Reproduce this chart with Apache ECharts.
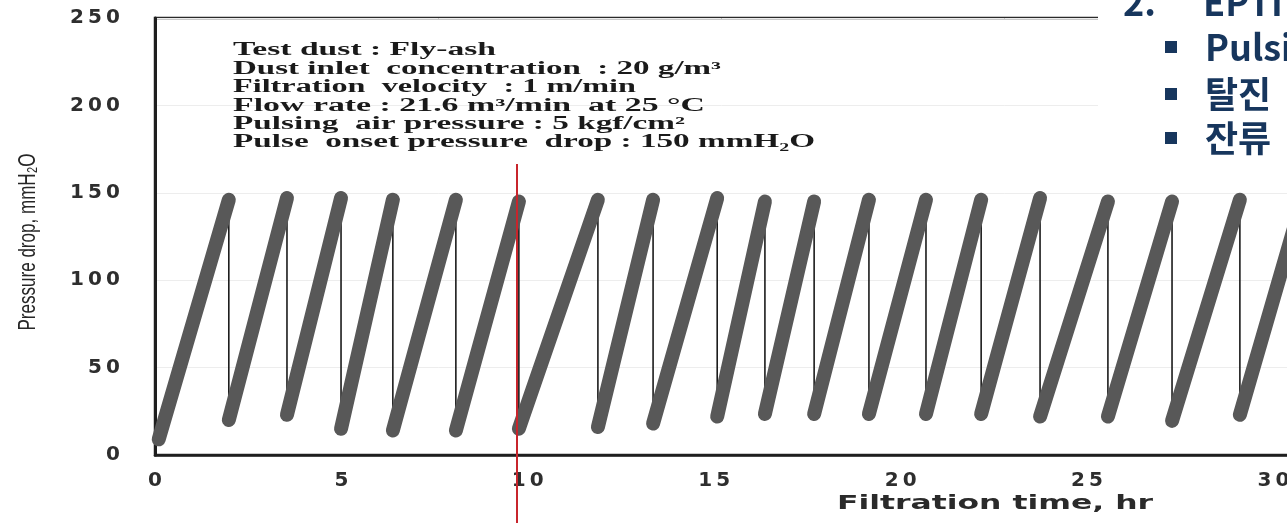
<!DOCTYPE html>
<html><head><meta charset="utf-8">
<script src="https://cdn.jsdelivr.net/npm/echarts@6/dist/echarts.min.js"></script>
<style>html,body{margin:0;padding:0;background:#fff}#c{width:1287px;height:523px}</style>
</head><body><div id="c"></div>
<script>
// ---- data ----
const startTime = 0.1;          // hr
const startValue = 9;           // mmH2O
const pulseTimes = [1.98, 3.54, 4.99, 6.38, 8.07, 9.76, 11.88, 13.36, 15.08, 16.36, 17.68, 19.15, 20.68, 22.16, 23.74, 25.56, 27.28, 29.10, 30.77];
const peakValues = [146, 147, 147, 146, 146, 145, 146, 146, 147, 145, 145, 146, 146, 146, 147, 145, 145, 146, 146];
const residualValues = [20, 23, 15, 14, 14, 15, 16, 18, 22, 23.5, 23.5, 23.5, 23.5, 23.5, 22, 22, 19.5, 23];
const markerTime = 9.71;
const xTickValues = [0, 5, 10, 15, 20, 25, 30];
const yTickValues = [0, 50, 100, 150, 200, 250];
const infoLines = [
  'Test dust : Fly-ash',
  'Dust inlet  concentration  : 20 g/m³',
  'Filtration  velocity  : 1 m/min',
  'Flow rate : 21.6 m³/min  at 25 °C',
  'Pulsing  air pressure : 5 kgf/cm²',
  'Pulse  onset pressure  drop : 150 mmH₂O'
];
const xTitle = 'Filtration time, hr';
const yTitle = 'Pressure drop, mmH₂O';
const sideHeading = ['2.', 'EPTI'];
const sideBullets = ['Pulsi', '탈진', '잔류'];

// ---- build ----
const zigzag = [[startTime, startValue]];
const rises = [];
let prev = [startTime, startValue];
pulseTimes.forEach((t, i) => {
  const peak = [t, peakValues[i]];
  rises.push({ coords: [prev, peak] });
  zigzag.push(peak);
  if (i < residualValues.length) { prev = [t, residualValues[i]]; zigzag.push(prev); }
});

const ctx = document.createElement('canvas').getContext('2d');
function tw(text, font) { ctx.font = font; return ctx.measureText(text).width; }

const infoFont = 'bold 18px "Liberation Serif"';
const infoTargets = [263, 488, 403, 472, 452, 582];
const infoY = [50, 69, 87, 106, 124, 142];
const graphics = [];
infoLines.forEach((s, i) => {
  graphics.push({ type: 'text', x: 233, y: infoY[i], z: 50, scaleX: infoTargets[i] / tw(s, infoFont),
    style: { text: s, font: infoFont, fill: '#1a1a1a', align: 'left', verticalAlign: 'middle' } });
});
const xtFont = 'bold 20px "DejaVu Sans"';
graphics.push({ type: 'text', x: 995, y: 504, z: 50, scaleX: 316 / tw(xTitle, xtFont),
  style: { text: xTitle, font: xtFont, fill: '#2a2a2a', align: 'center', verticalAlign: 'middle' } });
const ytFont = '24px "Liberation Sans"';
graphics.push({ type: 'text', x: 28, y: 242, z: 50, rotation: Math.PI / 2, scaleX: 177 / tw(yTitle, ytFont),
  style: { text: yTitle, font: ytFont, fill: '#262626', align: 'center', verticalAlign: 'middle' } });

// slide overlay (white text box with Korean bullet list)
graphics.push({ type: 'rect', z: 60, shape: { x: 1098, y: 0, width: 200, height: 160 }, style: { fill: '#fff' } });
const navy = '#17365d';
const kFont = 'bold 36px "Noto Sans CJK KR"';
graphics.push({ type: 'text', x: 1123, y: 2, z: 61, style: { text: sideHeading[0], font: kFont, fill: navy, align: 'left', verticalAlign: 'middle' } });
graphics.push({ type: 'text', x: 1203, y: 2, z: 61, style: { text: sideHeading[1], font: kFont, fill: navy, align: 'left', verticalAlign: 'middle' } });
const rowY = [47, 94, 138];
sideBullets.forEach((s, i) => {
  graphics.push({ type: 'rect', z: 61, shape: { x: 1165, y: rowY[i] - 6, width: 12, height: 12 }, style: { fill: navy } });
  graphics.push({ type: 'text', x: 1205, y: rowY[i], z: 61, style: { text: s, font: kFont, fill: navy, align: 'left', verticalAlign: 'middle' } });
});

function digits(v) { return String(v).split('').map(c => '{d|' + c + '}').join(''); }
const digitRich = { d: { width: 18, align: 'center', fontSize: 20, fontWeight: 'bold', fontFamily: 'DejaVu Sans', color: '#2e2e2e' } };

const chart = echarts.init(document.getElementById('c'), null, { renderer: 'canvas' });
chart.setOption({
  animation: false,
  backgroundColor: '#fff',
  grid: { left: 155, top: 18, width: 1193, height: 437, outerBoundsMode: 'none', containLabel: false,
    show: true, borderColor: '#2a2a2a', borderWidth: 2.5, backgroundColor: 'transparent' },
  xAxis: {
    type: 'value', min: 0, max: 32, interval: 5,
    axisLine: { show: true, onZero: false, lineStyle: { color: '#1e1e1e', width: 2.5 } },
    axisTick: { show: false }, splitLine: { show: false },
    axisLabel: { margin: 16, showMaxLabel: false, formatter: v => xTickValues.includes(v) ? digits(v) : '', rich: digitRich }
  },
  yAxis: {
    type: 'value', min: 0, max: 250, interval: 50,
    axisLine: { show: true, lineStyle: { color: '#1e1e1e', width: 3 } },
    axisTick: { show: false },
    splitLine: { show: true, lineStyle: { color: '#ededed', width: 1 } },
    axisLabel: { margin: 33, formatter: v => yTickValues.includes(v) ? digits(v) : '', rich: digitRich }
  },
  series: [
    { type: 'line', data: zigzag, showSymbol: false, z: 2, silent: true, clip: false,
      lineStyle: { color: '#1c1c1c', width: 1.6 } },
    { type: 'lines', coordinateSystem: 'cartesian2d', polyline: false, z: 3, silent: true, data: rises,
      lineStyle: { color: '#585858', width: 14, opacity: 1, cap: 'round' } }
  ],
  graphic: graphics
});
const rx = chart.convertToPixel({ xAxisIndex: 0 }, markerTime);
chart.setOption({ graphic: [{ id: 'marker', type: 'line', z: 55, shape: { x1: rx, y1: 164, x2: rx, y2: 523 }, style: { stroke: '#c8252c', lineWidth: 2 } }] });
</script></body></html>
